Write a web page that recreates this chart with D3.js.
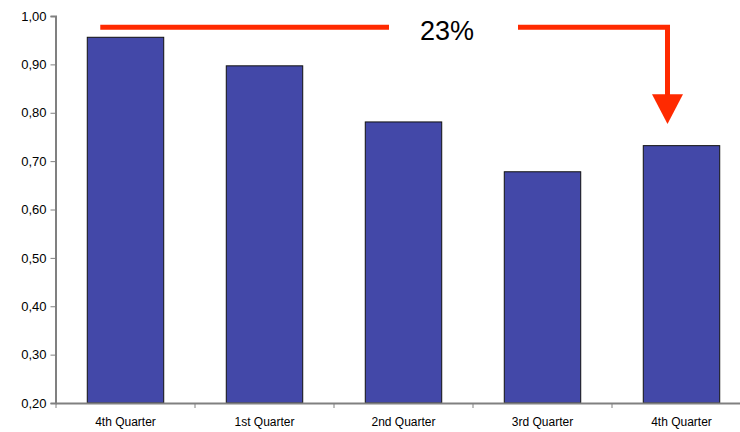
<!DOCTYPE html>
<html>
<head>
<meta charset="utf-8">
<script src="https://cdn.jsdelivr.net/npm/d3@7"></script>
<style>
  body { margin: 0; background: #fff; }
  svg { display: block; font-family: "Liberation Sans", Arial, sans-serif; }
</style>
</head>
<body>
<div id="chart"></div>
<script>
const quarters = ['4th Quarter', '1st Quarter', '2nd Quarter', '3rd Quarter', '4th Quarter'];
const values = [0.956, 0.897, 0.781, 0.678, 0.732];
const yTicks = [0.2, 0.3, 0.4, 0.5, 0.6, 0.7, 0.8, 0.9, 1.0];
const changeLabel = '23%';

const width = 740;
const height = 432;
const margin = { top: 16, right: -11, bottom: 29, left: 56 };

const svg = d3.select('#chart')
    .append('svg')
    .attr('width', width)
    .attr('height', height);

const x = d3.scaleBand()
    .domain(d3.range(quarters.length))
    .range([margin.left, width - margin.right])
    .paddingInner(0.45)
    .paddingOuter(0.225);

const y = d3.scaleLinear()
    .domain([0.2, 1.0])
    .range([height - margin.bottom, margin.top]);

// bars
svg.append('g')
    .selectAll('rect')
    .data(values)
    .join('rect')
    .attr('x', (d, i) => x(i))
    .attr('y', d => y(d))
    .attr('width', x.bandwidth())
    .attr('height', d => y(0.2) - y(d))
    .attr('fill', '#4348A8')
    .attr('stroke', '#111')
    .attr('stroke-width', 1);

// y axis
const fmt = v => d3.format('.2f')(v).replace('.', ',');
svg.append('g')
    .attr('transform', `translate(${margin.left - 0.5},0)`)
    .call(d3.axisLeft(y).tickValues(yTicks).tickFormat(fmt).tickSize(5).tickPadding(4))
    .call(g => g.select('.domain').attr('stroke', '#808080').attr('stroke-width', 2))
    .call(g => g.selectAll('.tick line').attr('stroke', '#808080'))
    .call(g => g.selectAll('.tick text').attr('font-size', 13).attr('fill', '#000'));

// x axis: labels at band centres, ticks at band edges
svg.append('g')
    .attr('transform', `translate(0,${y(0.2)})`)
    .call(d3.axisBottom(x).tickFormat(i => quarters[i]).tickSize(0).tickPadding(14))
    .call(g => g.select('.domain').attr('stroke', '#808080').attr('stroke-width', 2))
    .call(g => g.selectAll('.tick text').attr('font-size', 12).attr('fill', '#000'));

svg.append('g')
    .attr('stroke', '#808080')
    .selectAll('line')
    .data(d3.range(quarters.length + 1))
    .join('line')
    .attr('x1', i => margin.left + i * x.step())
    .attr('x2', i => margin.left + i * x.step())
    .attr('y1', y(0.2))
    .attr('y2', y(0.2) + 5);

// 23% annotation
const red = '#FF2A00';
const lineY = y(0.977);
const startX = x(0) + 13;
const arrowX = x(4) + x.bandwidth() / 2 - 14;
const textX = (x(2) + x(3) + x.bandwidth()) / 2 - 26;

svg.append('line')
    .attr('x1', startX).attr('x2', textX - 58)
    .attr('y1', lineY).attr('y2', lineY)
    .attr('stroke', red).attr('stroke-width', 5);

svg.append('path')
    .attr('d', `M${textX + 71},${lineY} H${arrowX} V${y(0.835)}`)
    .attr('fill', 'none')
    .attr('stroke', red).attr('stroke-width', 5);

svg.append('path')
    .attr('d', `M${arrowX - 15.5},${y(0.838)} L${arrowX + 15.5},${y(0.838)} L${arrowX},${y(0.777)} Z`)
    .attr('fill', red);

svg.append('text')
    .attr('x', textX)
    .attr('y', lineY + 13)
    .attr('text-anchor', 'middle')
    .attr('font-size', 27)
    .text(changeLabel);
</script>
</body>
</html>
